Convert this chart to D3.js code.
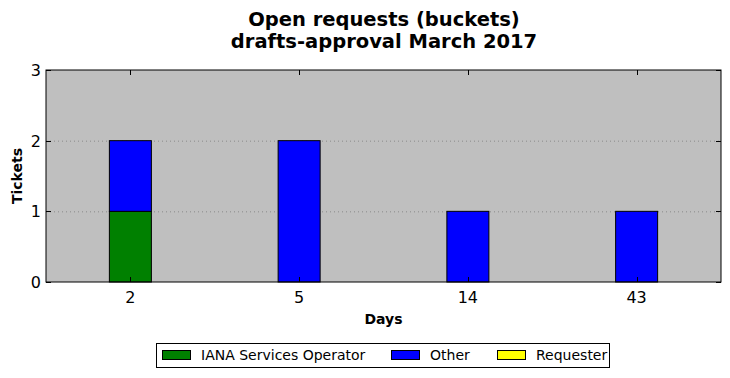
<!DOCTYPE html>
<html>
<head>
<meta charset="utf-8">
<script src="https://cdn.jsdelivr.net/npm/d3@7"></script>
<style>
  body { margin: 0; background: #fff; }
  svg { font-family: "DejaVu Sans", sans-serif; }
</style>
</head>
<body>
<div id="chart"></div>
<script>
// data
const days = ["2", "5", "14", "43"];
const seriesNames = ["IANA Services Operator", "Other", "Requester"];
const ianaValues = [1, 0, 0, 0];
const otherValues = [1, 2, 1, 1];
const requesterValues = [0, 0, 0, 0];
const yTicks = [0, 1, 2, 3];
const colors = ["#008000", "#0000ff", "#ffff00"];

const W = 730, H = 378;
const margin = { left: 46, top: 70, right: 9, bottom: 96 };
const width = W - margin.left - margin.right;
const height = H - margin.top - margin.bottom;

const svg = d3.select("#chart").append("svg")
  .attr("width", W).attr("height", H);

// title
svg.append("text").attr("x", 384).attr("y", 26)
  .attr("text-anchor", "middle").attr("font-size", 19.5).attr("font-weight", "bold")
  .text("Open requests (buckets)");
svg.append("text").attr("x", 384).attr("y", 48)
  .attr("text-anchor", "middle").attr("font-size", 19.5).attr("font-weight", "bold")
  .text("drafts-approval March 2017");

const g = svg.append("g").attr("transform", `translate(${margin.left},${margin.top})`);

const x = d3.scaleBand().domain(days).range([0, width]);
const y = d3.scaleLinear().domain([0, 3]).range([height, 0]);
const barW = 42;

g.append("rect").attr("width", width).attr("height", height).attr("fill", "#bfbfbf");

// grid
g.append("g").selectAll("line")
  .data(yTicks.filter(d => d > 0 && d < 3))
  .enter().append("line")
  .attr("x1", 0).attr("x2", width)
  .attr("y1", d => y(d) + 0.5).attr("y2", d => y(d) + 0.5)
  .attr("stroke", "#8a8a8a").attr("stroke-width", 1).attr("stroke-dasharray", "1,3");

// stacked bars
const rows = days.map((d, i) => ({ day: d, s0: ianaValues[i], s1: otherValues[i], s2: requesterValues[i] }));
const stack = d3.stack().keys(["s0", "s1", "s2"])(rows);

stack.forEach((layer, li) => {
  g.append("g").selectAll("rect")
    .data(layer.filter(d => d[1] - d[0] > 0))
    .enter().append("rect")
    .attr("x", d => x(d.data.day) + x.bandwidth() / 2 - barW / 2)
    .attr("y", d => y(d[1]))
    .attr("width", barW)
    .attr("height", d => y(d[0]) - y(d[1]))
    .attr("fill", colors[li])
    .attr("stroke", "#000").attr("stroke-width", 1);
});

// frame
g.append("rect").attr("width", width).attr("height", height)
  .attr("fill", "none").attr("stroke", "#000").attr("stroke-width", 1);

// ticks inside
const tickG = g.append("g").attr("stroke", "#000").attr("stroke-width", 1);
days.forEach(d => {
  const cx = Math.round(x(d) + x.bandwidth() / 2) + 0.5;
  tickG.append("line").attr("x1", cx).attr("x2", cx).attr("y1", height).attr("y2", height - 5);
  tickG.append("line").attr("x1", cx).attr("x2", cx).attr("y1", 0).attr("y2", 5);
});
yTicks.forEach(t => {
  const cy = Math.round(y(t)) + 0.5;
  tickG.append("line").attr("x1", 0).attr("x2", 5).attr("y1", cy).attr("y2", cy);
  tickG.append("line").attr("x1", width).attr("x2", width - 5).attr("y1", cy).attr("y2", cy);
});

// tick labels
g.append("g").selectAll("text").data(days).enter().append("text")
  .attr("x", d => x(d) + x.bandwidth() / 2).attr("y", height + 21)
  .attr("text-anchor", "middle").attr("font-size", 16).text(d => d);
g.append("g").selectAll("text").data(yTicks).enter().append("text")
  .attr("x", -5).attr("y", d => y(d) + 6)
  .attr("text-anchor", "end").attr("font-size", 16).text(d => d);

// axis labels
svg.append("text").attr("x", margin.left + width / 2).attr("y", 324)
  .attr("text-anchor", "middle").attr("font-size", 14).attr("font-weight", "bold").text("Days");
svg.append("text").attr("transform", `translate(22,${margin.top + height / 2}) rotate(-90)`)
  .attr("text-anchor", "middle").attr("font-size", 14).attr("font-weight", "bold").text("Tickets");

// legend
const leg = svg.append("g");
leg.append("rect").attr("x", 156.5).attr("y", 343.5).attr("width", 453).attr("height", 24)
  .attr("fill", "#fff").attr("stroke", "#000");
const legX = [162, 391, 497];
seriesNames.forEach((n, i) => {
  leg.append("rect").attr("x", legX[i] + 0.5).attr("y", 350.5).attr("width", 28).attr("height", 9)
    .attr("fill", colors[i]).attr("stroke", "#000");
  leg.append("text").attr("x", legX[i] + 39).attr("y", 360).attr("font-size", 14).text(n);
});
</script>
</body>
</html>
